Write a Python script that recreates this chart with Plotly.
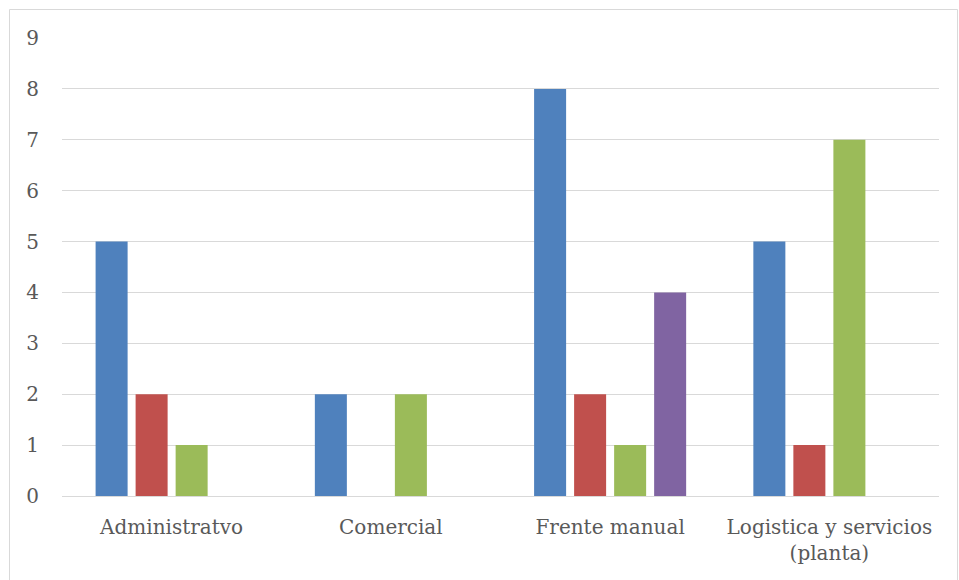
import plotly.graph_objects as go

categories = ["Administratvo", "Comercial", "Frente manual", "Logistica y servicios<br>(planta)"]
serie1 = [5, 2, 8, 5]
serie2 = [2, 0, 2, 1]
serie3 = [1, 2, 1, 7]
serie4 = [0, 0, 4, 0]
colors = ["#4F81BD", "#C0504D", "#9BBB59", "#8064A2"]
names = ["Serie 1", "Serie 2", "Serie 3", "Serie 4"]
y_ticks = list(range(0, 10))

fig = go.Figure()
for vals, c, n in zip([serie1, serie2, serie3, serie4], colors, names):
    fig.add_trace(go.Bar(x=categories, y=vals, name=n, marker=dict(color=c, line=dict(width=0))))

W, H = 959, 580
l, r, t, b = 62, 20, 38, 84
pw, ph = W - l - r, H - t - b
fnt = "DejaVu Serif, serif"

fig.update_layout(
    width=W, height=H,
    margin=dict(l=l, r=r, t=t, b=b),
    paper_bgcolor="white", plot_bgcolor="white",
    barmode="group", bargap=0.27, bargroupgap=0.2,
    showlegend=False,
    font=dict(family=fnt, size=20, color="#595959"),
    xaxis=dict(showgrid=False, showline=False, ticks="", tickfont=dict(family=fnt, size=20, color="#595959"),
               ticklabelstandoff=17),
    yaxis=dict(range=[0, 9], tickvals=y_ticks, showgrid=True, gridcolor="#D9D9D9", gridwidth=1,
               zeroline=True, zerolinecolor="#D9D9D9", zerolinewidth=1,
               tickfont=dict(family=fnt, size=20, color="#595959"), ticklabelstandoff=22),
    shapes=[dict(type="rect", xref="paper", yref="paper",
                 x0=(9.5 - l) / pw, x1=(957.5 - l) / pw,
                 y0=-0.5, y1=(H - b - 9.5) / ph,
                 line=dict(color="#D9D9D9", width=1), fillcolor="rgba(0,0,0,0)", layer="below")],
)

fig.write_html("out.html")
